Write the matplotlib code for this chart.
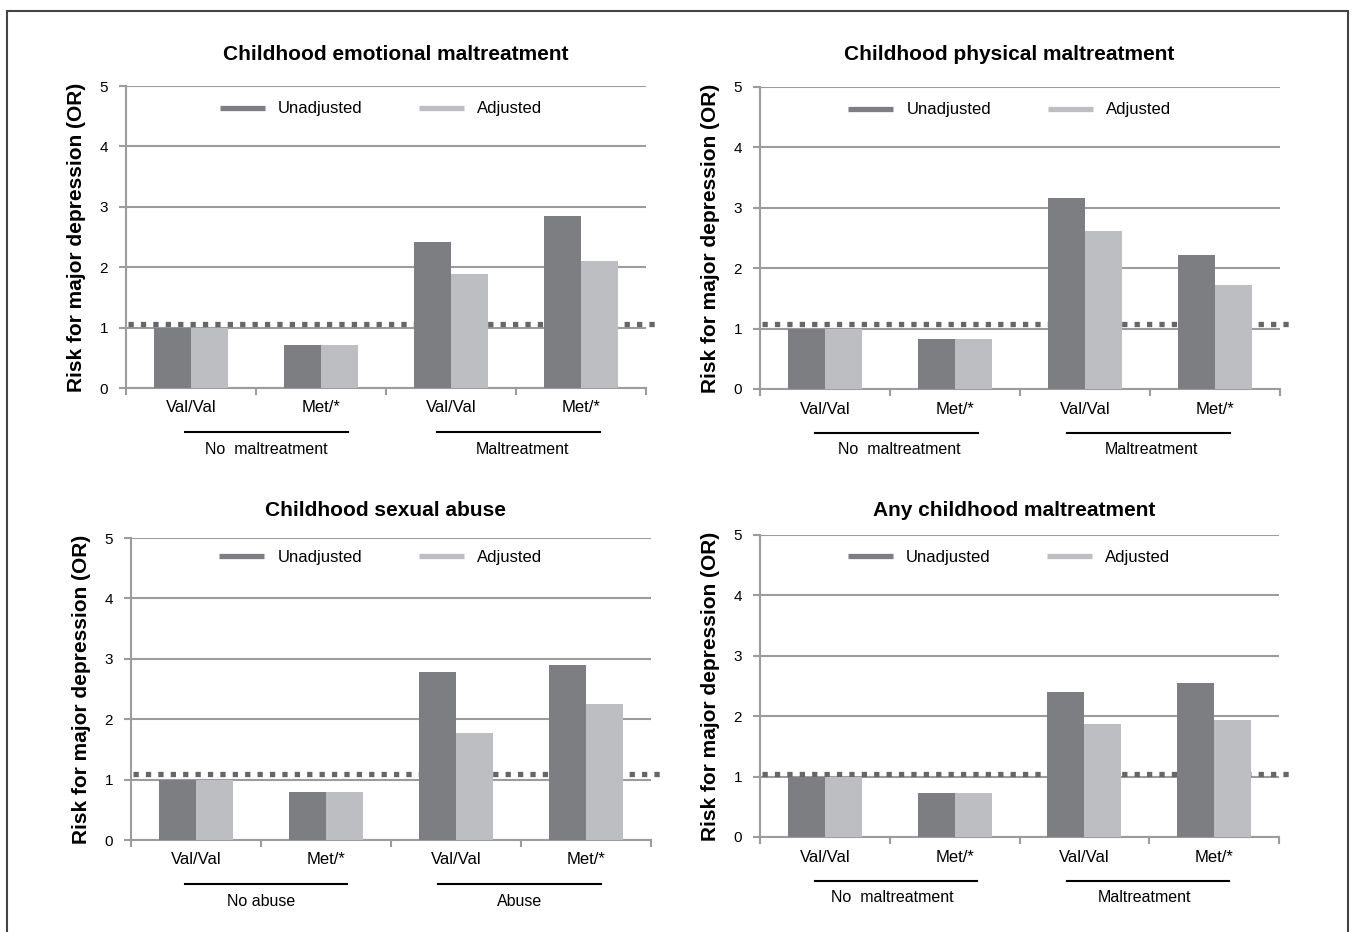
import matplotlib
matplotlib.use("Agg")
import matplotlib.pyplot as plt
from matplotlib.lines import Line2D
from matplotlib.patches import Rectangle
from matplotlib.transforms import blended_transform_factory

plt.rcParams['font.family'] = ['Liberation Sans', 'DejaVu Sans']

# data
titles = ['Childhood emotional maltreatment', 'Childhood physical maltreatment',
          'Childhood sexual abuse', 'Any childhood maltreatment']
genotypes = ['Val/Val', 'Met/*', 'Val/Val', 'Met/*']
groups = [['No  maltreatment', 'Maltreatment'],
          ['No  maltreatment', 'Maltreatment'],
          ['No abuse', 'Abuse'],
          ['No  maltreatment', 'Maltreatment']]
unadjusted = [[1.0, 0.72, 2.42, 2.84],
              [1.0, 0.82, 3.17, 2.22],
              [1.0, 0.79, 2.78, 2.90],
              [1.0, 0.73, 2.40, 2.55]]
adjusted = [[1.0, 0.72, 1.89, 2.10],
            [1.0, 0.82, 2.61, 1.72],
            [1.0, 0.79, 1.77, 2.25],
            [1.0, 0.73, 1.87, 1.93]]
ref_line = [1.06, 1.07, 1.10, 1.05]

DARK = '#7d7e82'
LIGHT = '#bdbec2'
GRID = '#9c9c9c'

W, H = 1352, 932
fig = plt.figure(figsize=(W / 100, H / 100), dpi=100)

# axes boxes in pixels: left, top, right, bottom
boxes = [(126, 86, 646, 388), (760, 87, 1280, 389),
         (131, 538, 651, 840), (760, 535, 1279, 837)]
title_x = [0.519, 0.48, 0.49, 0.49]
title_dy = [32, 32, 28, 25]
legend_pos = [(0.49, 0.924), (0.48, 0.924), (0.48, 0.937), (0.48, 0.927)]
line_c = [(1.08, 3.02), (1.05, 2.99), (1.04, 2.99), (1.05, 2.99)]
label_c = [(1.08, 3.05), (1.07, 3.01), (1.0, 2.99), (1.02, 2.96)]

for i, (l, t, r, b) in enumerate(boxes):
    ax = fig.add_axes([l / W, 1 - b / H, (r - l) / W, (b - t) / H])
    hpx = b - t
    wpx = r - l
    x = [k + 0.5 for k in range(4)]
    bw = 0.285
    ax.bar([v - bw / 2 for v in x], unadjusted[i], width=bw, color=DARK, zorder=3)
    ax.bar([v + bw / 2 for v in x], adjusted[i], width=bw, color=LIGHT, zorder=3)

    # dotted reference line behind bars
    ax.plot([0.003, 1 + 10 / wpx], [ref_line[i]] * 2, transform=ax.get_yaxis_transform(),
            color='#666669', lw=3.8, linestyle=(0, (1, 1.35)),
            dash_capstyle='butt', clip_on=False, zorder=2)

    ax.set_xlim(0, 4)
    ax.set_ylim(0, 5)
    ax.set_yticks(range(6))
    ax.yaxis.grid(True, color=GRID, lw=1.5, zorder=0)
    ax.set_axisbelow(True)
    ax.set_xticks(range(5))
    ax.set_xticklabels([])
    ax.tick_params(axis='both', colors=GRID, length=5, width=1.5, labelsize=11,
                   labelcolor='black')
    ax.tick_params(axis='y', pad=8)
    for s in ['top', 'right']:
        ax.spines[s].set_visible(False)
    for s in ['left', 'bottom']:
        ax.spines[s].set_color(GRID)
        ax.spines[s].set_linewidth(1.5)

    tr = blended_transform_factory(ax.transData, ax.transAxes)
    for v, g in zip(x, genotypes):
        ax.text(v, -20 / hpx, g, transform=tr, ha='center', va='center', fontsize=12)
    for c, lc, g in zip(line_c[i], label_c[i], groups[i]):
        ax.plot([c - 0.625, c + 0.625], [-44 / hpx] * 2, transform=tr, color='black',
                lw=1.5, clip_on=False)
        ax.text(lc, -61 / hpx, g, transform=tr, ha='center', va='center', fontsize=11.5)

    ax.text(title_x[i], 1 + title_dy[i] / hpx, titles[i], transform=ax.transAxes,
            ha='center', va='center', fontsize=15, fontweight='bold')
    ax.set_ylabel('Risk for major depression (OR)', fontsize=15, fontweight='bold')
    ax.yaxis.set_label_coords(-40 / wpx, 0.5)

    handles = [Line2D([], [], color=DARK, lw=3.8, solid_capstyle='butt'),
               Line2D([], [], color=LIGHT, lw=3.8, solid_capstyle='butt')]
    ax.legend(handles, ['Unadjusted', 'Adjusted'], ncol=2, frameon=False,
              loc='center', bbox_to_anchor=legend_pos[i], fontsize=12,
              handlelength=2.7, handletextpad=0.78, columnspacing=3.4)

fig.patches.append(Rectangle((7 / W, -0.01), (1348 - 7) / W, 1 - 11 / H + 0.01,
                             transform=fig.transFigure, fill=False,
                             edgecolor='#444444', lw=1.5))

fig.savefig('out.png', dpi=100)
